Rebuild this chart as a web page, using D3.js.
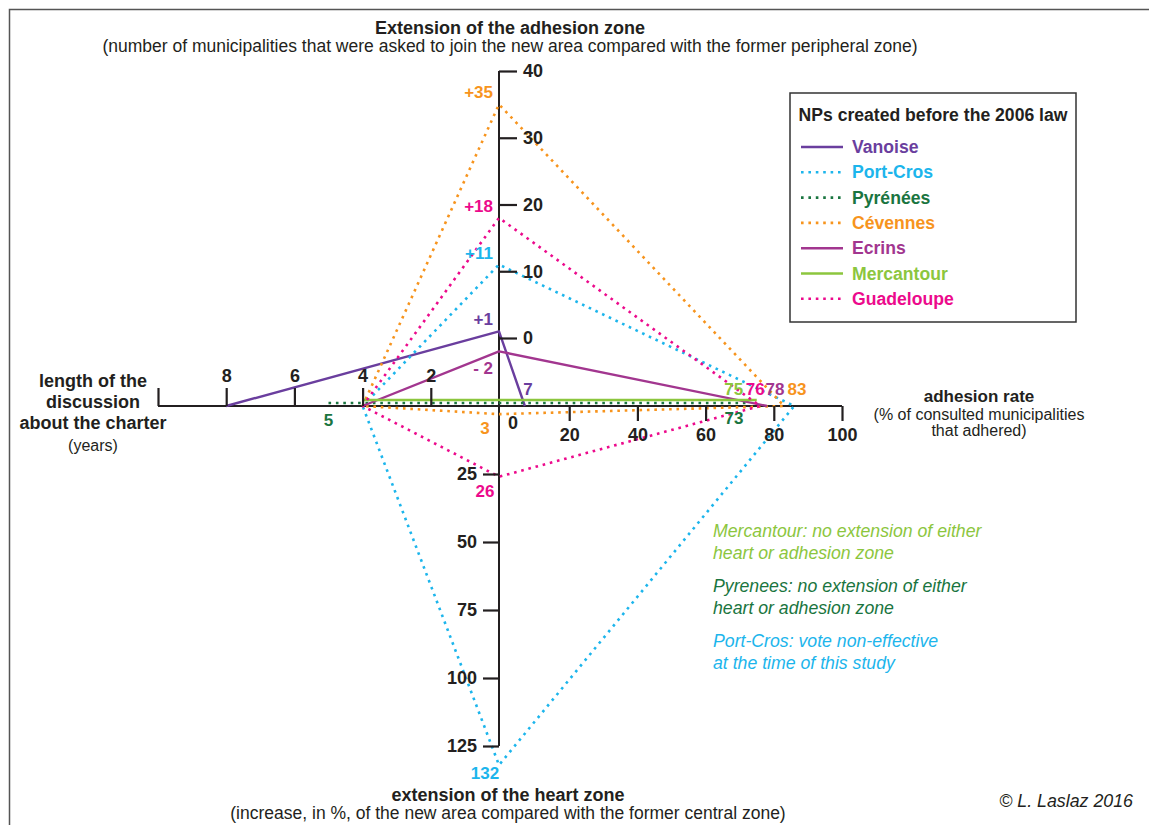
<!DOCTYPE html>
<html>
<head>
<meta charset="utf-8">
<script src="https://cdn.jsdelivr.net/npm/d3@7"></script>
<style>
  body { margin: 0; background: #fff; }
  svg text { font-family: "Liberation Sans", Arial, sans-serif; }
</style>
</head>
<body>
<div id="chart"></div>
<script>
var width = 1149, height = 825;

// national parks created before the 2006 law
var parks = ['Vanoise', 'Port-Cros', 'Pyrénées', 'Cévennes', 'Ecrins', 'Mercantour', 'Guadeloupe'];
var discussionYears = [8, 4, 5, 4, 4, 4, 4];           // left axis
var adhesionZoneExt = [1, 11, null, 35, -2, null, 18];  // top axis
var adhesionRate = [7, 86, 73, 83, 78, 75, 76];         // right axis
var heartZoneExt = [null, 132, null, 3, null, null, 26]; // bottom axis

// tick labels
var leftTicks = [2, 4, 6, 8, 10];
var topTicks = [0, 10, 20, 30, 40];
var rightTicks = [20, 40, 60, 80, 100];
var bottomTicks = [25, 50, 75, 100, 125];

var colors = {
  'Vanoise': '#6a3e9e',
  'Port-Cros': '#1cb5ec',
  'Pyrénées': '#1a7540',
  'Cévennes': '#f7941d',
  'Ecrins': '#a2368f',
  'Mercantour': '#8cc63e',
  'Guadeloupe': '#ec0a8c'
};
var dotted = {'Port-Cros': true, 'Pyrénées': true, 'Cévennes': true, 'Guadeloupe': true};

var cx = 499, cy = 406;

var xLeft = d3.scaleLinear().domain([0, 10]).range([cx, 158]);
var xRight = d3.scaleLinear().domain([0, 100]).range([501, 842]);
var yTop = d3.scaleLinear().domain([0, 40]).range([338, 71]);
var yBottom = d3.scaleLinear().domain([0, 125]).range([cy, 746]);

var svg = d3.select('#chart').append('svg')
  .attr('width', width)
  .attr('height', height);

// frame
svg.append('path')
  .attr('d', 'M9.5,' + (height + 5) + 'V9.5H' + (width + 5))
  .attr('fill', 'none')
  .attr('stroke', '#555')
  .attr('stroke-width', 1.5);

// --- series
var series = parks.map(function(p, i) {
  var pts = [];
  pts.push([xLeft(discussionYears[i]), cy]);
  if (adhesionZoneExt[i] !== null) pts.push([cx, yTop(adhesionZoneExt[i])]);
  pts.push([xRight(adhesionRate[i]), cy]);
  if (heartZoneExt[i] !== null) {
    pts.push([cx, yBottom(heartZoneExt[i])]);
    pts.push(pts[0]);
  }
  return {name: p, pts: pts};
});

// flat lines are nudged above the axis so they stay visible
var flatShift = {'Mercantour': -6, 'Pyrénées': -3};

var line = d3.line();

// --- axes lines
svg.append('line')
  .attr('x1', cx).attr('x2', cx)
  .attr('y1', yTop(40)).attr('y2', yBottom(125))
  .attr('stroke', '#231f20').attr('stroke-width', 2);
svg.append('line')
  .attr('x1', xLeft(10)).attr('x2', xRight(100))
  .attr('y1', cy).attr('y2', cy)
  .attr('stroke', '#231f20').attr('stroke-width', 2);

svg.selectAll('.series')
  .data(series)
  .enter().append('path')
  .attr('class', 'series')
  .attr('d', d => line(d.pts))
  .attr('transform', d => 'translate(0,' + (flatShift[d.name] || 0) + ')')
  .attr('fill', 'none')
  .attr('stroke', d => colors[d.name])
  .attr('stroke-width', d => dotted[d.name] ? 2.6 : 2.4)
  .attr('stroke-dasharray', d => dotted[d.name] ? '2.6 4.8' : null)
  .attr('stroke-linejoin', 'round');

function styleAxis(g) {
  g.select('.domain').remove();
  g.selectAll('.tick line').attr('stroke', '#231f20').attr('stroke-width', 2.2);
  g.selectAll('.tick text')
    .attr('fill', '#231f20')
    .style('font-size', '18px')
    .style('font-weight', 'bold')
    .style('font-family', '"Liberation Sans", Arial, sans-serif');
}

// left axis: length of discussion
svg.append('g')
  .attr('transform', 'translate(0,' + cy + ')')
  .call(d3.axisTop(xLeft).tickValues(leftTicks).tickSize(18).tickPadding(6)
    .tickFormat(d => d === 10 ? '' : d))
  .call(styleAxis);

// right axis: adhesion rate
svg.append('g')
  .attr('transform', 'translate(0,' + cy + ')')
  .call(d3.axisBottom(xRight).tickValues(rightTicks).tickSize(15).tickPadding(7))
  .call(styleAxis);

// top axis: extension of adhesion zone
svg.append('g')
  .attr('transform', 'translate(' + cx + ',0)')
  .call(d3.axisRight(yTop).tickValues(topTicks).tickSize(18).tickPadding(6))
  .call(styleAxis);

// bottom axis: extension of heart zone
svg.append('g')
  .attr('transform', 'translate(' + cx + ',0)')
  .call(d3.axisLeft(yBottom).tickValues(bottomTicks).tickSize(16).tickPadding(6))
  .call(styleAxis);

// "0" of the right axis, shifted off the vertical axis
svg.append('text')
  .attr('x', xRight(0) + 12).attr('y', cy + 23)
  .attr('text-anchor', 'middle')
  .style('font-size', '18px').style('font-weight', 'bold')
  .attr('fill', '#231f20')
  .text('0');

// --- value labels
var valueLabels = [];
parks.forEach(function(p, i) {
  if (adhesionZoneExt[i] !== null) {
    var v = adhesionZoneExt[i];
    valueLabels.push({name: p, x: cx - 6, y: yTop(v) - (v < 0 ? -23 : 6),
      anchor: 'end', text: v < 0 ? '- ' + Math.abs(v) : '+' + v});
  }
  if (heartZoneExt[i] !== null) {
    valueLabels.push({name: p, x: cx - 14, y: yBottom(heartZoneExt[i]) + (heartZoneExt[i] > 100 ? 14 : 20),
      anchor: 'middle', text: heartZoneExt[i]});
  }
});
// right axis labels: spread out side by side above the axis
var rightDx = {'Vanoise': 3, 'Mercantour': -23, 'Guadeloupe': -5, 'Ecrins': 8, 'Cévennes': 13};
parks.forEach(function(p, i) {
  if (p === 'Port-Cros') return;
  if (p === 'Pyrénées') {
    valueLabels.push({name: p, x: xRight(adhesionRate[i]) - 16, y: cy + 18, anchor: 'middle', text: adhesionRate[i]});
    return;
  }
  valueLabels.push({name: p, x: xRight(adhesionRate[i]) + rightDx[p], y: cy - 11, anchor: 'middle', text: adhesionRate[i]});
});
// Pyrénées discussion length
valueLabels.push({name: 'Pyrénées', x: xLeft(discussionYears[2]), y: cy + 20, anchor: 'middle', text: discussionYears[2]});

svg.selectAll('.val')
  .data(valueLabels)
  .enter().append('text')
  .attr('class', 'val')
  .attr('x', d => d.x).attr('y', d => d.y)
  .attr('text-anchor', d => d.anchor)
  .attr('fill', d => colors[d.name])
  .style('font-size', '17px').style('font-weight', 'bold')
  .text(d => d.text);

// --- axis titles
function titleBlock(x, y, lines, sizes) {
  var t = svg.append('text').attr('text-anchor', 'middle').attr('fill', '#231f20');
  lines.forEach(function(l, i) {
    t.append('tspan')
      .attr('x', x).attr('y', y + l.dy)
      .style('font-size', l.bold ? sizes[0] : sizes[1])
      .style('font-weight', l.bold ? 'bold' : 'normal')
      .text(l.text);
  });
}

titleBlock(510, 34, [
  {text: 'Extension of the adhesion zone', bold: true, dy: 0},
  {text: '(number of municipalities that were asked to join the new area compared with the former peripheral zone)', dy: 18}
], ['18px', '17.5px']);
titleBlock(508, 801, [
  {text: 'extension of the heart zone', bold: true, dy: 0},
  {text: '(increase, in %, of the new area compared with the former central zone)', dy: 18}
], ['18px', '17.5px']);
titleBlock(93, 387, [
  {text: 'length of the', bold: true, dy: 0},
  {text: 'discussion', bold: true, dy: 21},
  {text: 'about the charter', bold: true, dy: 42},
  {text: '(years)', dy: 64}
], ['18px', '16px']);
titleBlock(979, 402, [
  {text: 'adhesion rate', bold: true, dy: 0},
  {text: '(% of consulted municipalities', dy: 18},
  {text: 'that adhered)', dy: 34}
], ['17px', '16px']);

// --- legend
var legend = svg.append('g').attr('transform', 'translate(790,93)');
legend.append('rect')
  .attr('width', 286).attr('height', 229)
  .attr('fill', '#fff').attr('stroke', '#333').attr('stroke-width', 1.5);
legend.append('text')
  .attr('x', 143).attr('y', 28)
  .attr('text-anchor', 'middle')
  .style('font-size', '17.6px').style('font-weight', 'bold')
  .attr('fill', '#231f20')
  .text('NPs created before the 2006 law');

var items = legend.selectAll('.item')
  .data(parks)
  .enter().append('g')
  .attr('class', 'item')
  .attr('transform', (d, i) => 'translate(0,' + (54 + i * 25.3) + ')');
items.append('line')
  .attr('x1', 11).attr('x2', 53)
  .attr('stroke', d => colors[d])
  .attr('stroke-width', 2.6)
  .attr('stroke-dasharray', d => dotted[d] ? '2.6 4.8' : null);
items.append('text')
  .attr('x', 62).attr('y', 6)
  .attr('fill', d => colors[d])
  .style('font-size', '17.6px').style('font-weight', 'bold')
  .text(d => d);

// --- notes
var notes = [
  {name: 'Mercantour', lines: ['Mercantour: no extension of either', 'heart or adhesion zone']},
  {name: 'Pyrénées', lines: ['Pyrenees: no extension of either', 'heart or adhesion zone']},
  {name: 'Port-Cros', lines: ['Port-Cros: vote non-effective', 'at the time of this study']}
];
notes.forEach(function(n, i) {
  var t = svg.append('text')
    .attr('fill', colors[n.name])
    .style('font-size', '17.7px').style('font-style', 'italic');
  n.lines.forEach(function(l, j) {
    t.append('tspan').attr('x', 713).attr('y', 537 + i * 55 + j * 22).text(l);
  });
});

svg.append('text')
  .attr('x', 1133).attr('y', 807)
  .attr('text-anchor', 'end')
  .attr('fill', '#231f20')
  .style('font-size', '17.8px').style('font-style', 'italic')
  .text('© L. Laslaz 2016');
</script>
</body>
</html>
